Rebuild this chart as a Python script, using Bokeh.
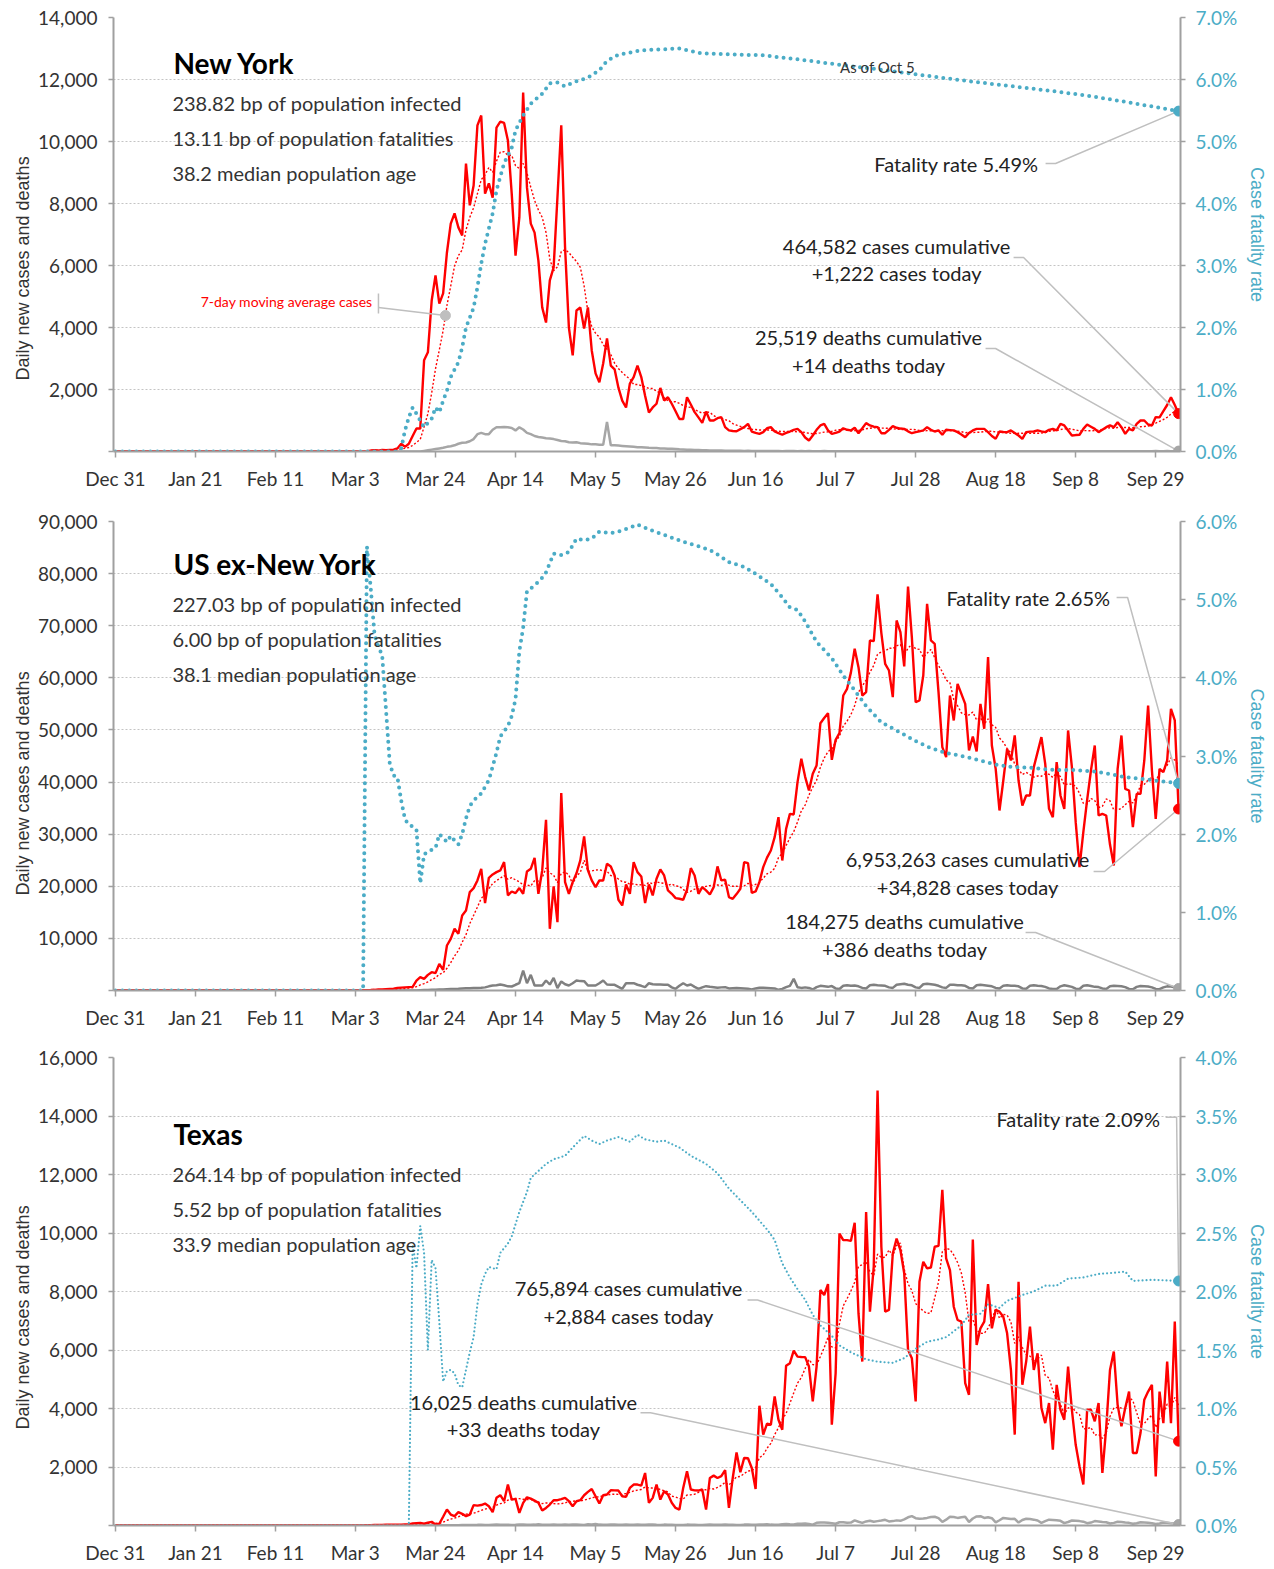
import numpy as np
from bokeh.plotting import figure
from bokeh.models import (Range1d, LinearAxis, FixedTicker, NumeralTickFormatter,
                          PrintfTickFormatter, ColumnDataSource, Title)
from bokeh.layouts import column
from bokeh.embed import file_html
from bokeh.resources import INLINE
from bokeh.core.properties import value

# ---------------- data (day 0 = Dec 31, 2019; day 279 = Oct 5, 2020) ----------------
TICK_DAYS = [0, 21, 42, 63, 84, 105, 126, 147, 168, 189, 210, 231, 252, 273]
TICK_LABELS = ["Dec 31", "Jan 21", "Feb 11", "Mar 3", "Mar 24", "Apr 14", "May 5",
               "May 26", "Jun 16", "Jul 7", "Jul 28", "Aug 18", "Sep 8", "Sep 29"]
LAST_DAY = 279

# New York daily new cases, from day 63
NY_CASES_START = 63
NY_CASES = [
    0, 0, 5, 10, 30, 40, 30, 50, 40, 50,
    60, 100, 250, 150, 250, 500, 740, 740, 2940, 3200,
    4870, 5680, 4770, 5100, 6420, 7350, 7680, 7230, 6970, 9290,
    7940, 8580, 10520, 10840, 8320, 8650, 8190, 10450, 10640, 10600,
    10030, 8320, 6320, 7550, 11580, 8520, 7350, 7060, 6160, 4650,
    4160, 5520, 5940, 8200, 10520, 6580, 4000, 3100, 4550, 4650,
    3970, 4650, 3260, 2520, 2230, 2840, 3650, 2770, 2650, 2060,
    1640, 1420, 2190, 2400, 2770, 2400, 1800, 1260, 1420, 1540,
    2050, 1645, 1750, 1540, 1300, 1050, 1050, 1750, 1515, 1270,
    1100, 925, 1290, 1000, 1000, 1075, 1110, 785, 680, 660,
    655, 720, 785, 890, 645, 600, 570, 625, 750, 785,
    650, 590, 540, 600, 645, 700, 730, 625, 450, 355,
    515, 700, 840, 890, 680, 570, 600, 645, 750, 700,
    680, 765, 590, 750, 915, 840, 800, 785, 590, 590,
    700, 815, 765, 740, 730, 650, 590, 625, 650, 680,
    785, 700, 645, 680, 540, 700, 690, 680, 625, 550,
    460, 600, 680, 730, 730, 730, 625, 500, 410, 645,
    630, 625, 680, 600, 515, 410, 625, 640, 645, 680,
    650, 625, 700, 730, 680, 890, 840, 680, 515, 530,
    540, 730, 870, 800, 730, 625, 700, 785, 840, 785,
    945, 785, 570, 730, 680, 890, 1000, 1000, 870, 840,
    1110, 1100, 1300, 1500, 1750, 1500, 1222]

# New York daily deaths, from day 81
NY_DEATHS_START = 81
NY_DEATHS = [
    20, 40, 60, 80, 100, 120, 150, 170, 200, 250,
    280, 290, 330, 400, 560, 600, 560, 560, 700, 780,
    780, 790, 780, 760, 680, 780, 710, 600, 560, 500,
    470, 450, 430, 420, 400, 370, 340, 330, 300, 290,
    300, 270, 260, 250, 230, 230, 220, 215, 950, 200,
    200, 190, 180, 170, 160, 150, 140, 140, 130, 120,
    115, 110, 100, 95, 90, 85, 80, 70, 65, 60,
    55, 50, 45, 40, 40, 35, 35, 30, 30, 28,
    25, 27, 22, 24, 20, 22, 18, 20, 17, 19,
    15, 16, 14, 18, 12, 15, 13, 16, 11, 14,
    12, 13, 10, 12, 11, 14, 9, 12, 10, 11,
    9, 12, 8, 11, 10, 9, 12, 8, 10, 9,
    11, 8, 9, 10, 7, 9, 8, 10, 7, 9,
    8, 7, 9, 6, 8, 7, 9, 6, 8, 7,
    6, 8, 5, 7, 6, 8, 5, 7, 6, 5,
    7, 6, 8, 5, 7, 6, 5, 7, 6, 8,
    5, 7, 6, 5, 8, 6, 7, 5, 6, 8,
    7, 6, 9, 7, 8, 6, 9, 7, 8, 10,
    8, 9, 7, 10, 9, 11, 8, 10, 12, 9,
    11, 10, 13, 12, 10, 14, 12, 11, 14]

# New York case fatality rate (%), read at these days
NY_CFR_DAYS = [0, 74, 75, 76, 77, 78, 79, 80, 81, 82, 83, 84, 85, 86, 87, 88, 90, 91, 92, 94,
               95, 96, 97, 99, 100, 102, 104, 105, 107, 109, 112, 114, 116, 118, 120, 124, 127,
               129, 132, 138, 148, 154, 170, 181, 191, 202, 213, 223, 234, 245, 255, 266, 279]
NY_CFR = [0, 0, 0.05, 0.34, 0.55, 0.71, 0.61, 0.50, 0.39, 0.46, 0.53, 0.71, 0.63, 0.82, 0.98,
          1.20, 1.44, 1.68, 2.00, 2.32, 2.65, 3.03, 3.35, 3.84, 4.21, 4.65, 4.90, 5.18, 5.42,
          5.61, 5.77, 5.94, 5.95, 5.89, 5.95, 6.03, 6.15, 6.30, 6.40, 6.47, 6.50, 6.42, 6.39,
          6.31, 6.23, 6.15, 6.06, 5.98, 5.90, 5.82, 5.74, 5.63, 5.49]

# US ex-New York daily new cases, from day 63
US_CASES_START = 63
US_CASES = [
    30, 50, 60, 80, 100, 130, 180, 200, 250, 300,
    350, 500, 550, 600, 650, 700, 1900, 2560, 2240, 3000,
    3520, 3330, 5100, 3970, 8640, 9920, 11840, 10880, 14400, 15360,
    18880, 19650, 21120, 23360, 16770, 21630, 22270, 22720, 23040, 24640,
    18240, 19000, 18690, 19650, 18560, 22850, 23360, 25470, 18560, 23040,
    32770, 11840, 19970, 13120, 37890, 20800, 18560, 20800, 22500, 24960,
    29570, 23040, 21120, 19840, 21120, 21120, 24320, 23810, 22080, 17410,
    16320, 20350, 18560, 24640, 22720, 21890, 16770, 20350, 18240, 21440,
    23230, 22080, 19200, 18560, 17730, 17600, 17410, 19330, 23490, 22080,
    18560, 19840, 19200, 18430, 19840, 23810, 21120, 21250, 17920, 17600,
    18500, 19520, 24640, 24450, 18750, 19000, 20790, 23670, 25500, 26870,
    29430, 33260, 24950, 31020, 33900, 33780, 39980, 44460, 41000, 38380,
    41580, 43180, 51300, 52300, 53220, 44270, 48110, 49390, 56610, 57890,
    61000, 65570, 62050, 56610, 57250, 67170, 67040, 76000, 68580, 62690,
    61410, 56290, 71010, 68770, 62180, 77530, 67810, 55330, 55650, 60450,
    74210, 67170, 66530, 57250, 46700, 44780, 56610, 51820, 58850, 56930,
    55010, 46060, 48750, 45870, 55010, 50220, 63970, 47020, 42540, 34540,
    40300, 46380, 44140, 48940, 40300, 35500, 37420, 37420, 42860, 45740,
    48620, 43500, 34860, 33260, 43820, 37420, 34860, 49900, 42860, 32300,
    23670, 30390, 36590, 42220, 47020, 33580, 33900, 33580, 28000, 23990,
    42540, 48940, 38700, 38380, 31350, 37740, 37740, 44140, 54690, 42220,
    32940, 42540, 41900, 44140, 54050, 51820, 34828]

# US ex-New York daily deaths, from day 80
US_DEATHS_START = 80
US_DEATHS = [
    50, 80, 100, 130, 150, 180, 200, 250, 280, 300,
    330, 380, 420, 450, 480, 500, 520, 600, 800, 960,
    1000, 1150, 1000, 800, 770, 1100, 1400, 3840, 1400, 3000,
    960, 950, 960, 1920, 1150, 2430, 450, 1730, 1200, 960,
    1400, 1920, 1800, 1790, 960, 960, 960, 1400, 1920, 1150,
    1100, 1090, 700, 320, 1400, 1400, 1400, 1100, 900, 640,
    1400, 1200, 1150, 1150, 1100, 1090, 600, 320, 900, 1400,
    960, 1150, 700, 320, 600, 830, 700, 640, 510, 600,
    640, 400, 450, 500, 450, 400, 320, 200, 400, 510,
    550, 500, 450, 400, 130, 300, 640, 900, 2240, 640,
    500, 600, 500, 200, 650, 900, 800, 700, 850, 400,
    300, 900, 1000, 900, 950, 800, 500, 400, 1000, 1100,
    1000, 950, 900, 600, 500, 1100, 1200, 1300, 1100, 1000,
    600, 500, 1200, 1300, 1200, 1100, 900, 600, 500, 1100,
    1100, 1000, 1000, 900, 500, 400, 1000, 1100, 1000, 900,
    800, 500, 400, 900, 1000, 900, 900, 800, 400, 350,
    900, 1000, 900, 850, 700, 400, 300, 300, 800, 1000,
    850, 700, 350, 300, 900, 1000, 850, 700, 650, 400,
    300, 800, 900, 850, 800, 650, 300, 250, 700, 850,
    800, 750, 600, 300, 250, 600, 800, 750, 600, 386]

US_CFR_DAYS = [0, 65, 66, 67, 68, 69, 70, 71, 72, 73, 74, 75, 76, 77, 78, 79, 80, 81, 82, 83,
               84, 85, 86, 87, 88, 89, 90, 91, 92, 93, 94, 96, 98, 100, 101, 103, 104, 105, 106,
               107, 108, 110, 112, 113, 115, 117, 119, 121, 123, 125, 127, 130, 132, 135, 137,
               141, 144, 149, 154, 157, 161, 165, 168, 172, 175, 177, 179, 181, 184, 188, 191,
               194, 197, 201, 206, 210, 214, 218, 223, 228, 231, 235, 240, 244, 248, 252, 257,
               261, 265, 269, 274, 279]
US_CFR = [0, 0, 5.68, 5.15, 4.55, 4.40, 4.29, 3.60, 2.90, 2.75, 2.73, 2.43, 2.19, 2.12, 2.10,
          2.06, 1.37, 1.74, 1.78, 1.80, 1.82, 2.00, 1.95, 1.90, 1.98, 1.92, 1.87, 2.00, 2.20,
          2.36, 2.43, 2.52, 2.69, 3.04, 3.25, 3.38, 3.51, 3.73, 4.34, 4.64, 5.11, 5.18, 5.28,
          5.35, 5.59, 5.57, 5.61, 5.78, 5.76, 5.78, 5.87, 5.85, 5.87, 5.92, 5.96, 5.88, 5.83,
          5.74, 5.67, 5.61, 5.48, 5.42, 5.33, 5.20, 5.03, 4.90, 4.87, 4.72, 4.46, 4.25, 4.03,
          3.84, 3.64, 3.43, 3.30, 3.19, 3.10, 3.04, 2.99, 2.93, 2.89, 2.86, 2.85, 2.83, 2.82,
          2.82, 2.80, 2.77, 2.73, 2.71, 2.68, 2.65]

# Texas daily new cases, from day 66
TX_CASES_START = 66
TX_CASES = [
    10, 10, 15, 20, 20, 25, 25, 30, 30, 30,
    40, 40, 70, 80, 90, 60, 100, 125, 35, 60,
    300, 545, 375, 320, 455, 400, 320, 375, 695, 680,
    700, 750, 660, 455, 945, 1035, 830, 1400, 885, 910,
    430, 775, 965, 920, 850, 775, 510, 600, 715, 865,
    865, 900, 945, 830, 660, 830, 865, 1035, 1150, 1250,
    1000, 750, 1035, 1060, 1205, 1200, 1195, 1000, 980, 1285,
    1400, 1400, 1365, 1795, 775, 945, 1400, 885, 1170, 1060,
    775, 600, 545, 1285, 1855, 1230, 1200, 1195, 1230, 545,
    1625, 1705, 1625, 1685, 1890, 600, 1625, 2500, 1820, 2310,
    2300, 1965, 1250, 4095, 3105, 3480, 3445, 4410, 3615, 3275,
    5460, 5550, 5980, 5775, 5760, 5755, 5435, 4240, 5435, 8050,
    7880, 8255, 3445, 5205, 9980, 9755, 9755, 9730, 10350, 7250,
    5605, 10720, 7310, 8845, 14870, 9530, 7310, 7370, 9300, 9810,
    9415, 8620, 6005, 5720, 4240, 8335, 9015, 8790, 8820, 9530,
    9560, 11480, 9130, 8730, 7480, 7025, 6970, 4865, 4470, 9780,
    6175, 6740, 6970, 8255, 6740, 7370, 7310, 7140, 6570, 5320,
    3105, 8335, 4810, 5605, 6800, 5320, 5890, 4015, 3500, 4185,
    2590, 4810, 3955, 3615, 5435, 3955, 2760, 2020, 1400, 3955,
    3955, 3560, 4185, 1800, 3330, 5320, 5945, 4125, 3390, 4015,
    4580, 2480, 2480, 3160, 4300, 4580, 4810, 1680, 4580, 3500,
    5605, 3500, 6970, 2884]

# Texas daily deaths, from day 80
TX_DEATHS_START = 80
TX_DEATHS = [
    2, 3, 4, 5, 5, 6, 8, 10, 10, 12,
    12, 15, 18, 20, 20, 22, 25, 20, 18, 25,
    30, 28, 26, 25, 20, 22, 30, 35, 28, 25,
    30, 40, 25, 22, 28, 30, 26, 24, 30, 28,
    35, 30, 25, 20, 40, 35, 50, 30, 28, 25,
    32, 30, 28, 22, 30, 26, 24, 30, 28, 25,
    35, 30, 22, 18, 30, 28, 25, 20, 20, 18,
    30, 28, 25, 20, 15, 25, 30, 28, 25, 22,
    30, 28, 25, 20, 20, 30, 35, 28, 25, 30,
    35, 40, 30, 25, 28, 45, 50, 40, 35, 60,
    60, 70, 55, 30, 90, 100, 105, 95, 80, 60,
    110, 110, 95, 100, 175, 130, 90, 140, 165, 130,
    150, 170, 195, 140, 150, 175, 160, 210, 280, 320,
    250, 230, 240, 260, 290, 300, 250, 120, 200, 300,
    290, 260, 280, 300, 120, 240, 310, 320, 260, 280,
    250, 110, 180, 260, 240, 220, 230, 100, 190, 230,
    220, 200, 170, 90, 150, 200, 190, 180, 160, 80,
    120, 170, 160, 150, 130, 80, 100, 150, 140, 120,
    110, 70, 90, 130, 120, 100, 90, 60, 80, 110,
    100, 90, 80, 50, 70, 100, 90, 80, 70, 33]

TX_CFR_DAYS = [0, 77, 78, 79, 80, 81, 82, 83, 84, 85, 86, 87, 88, 89, 90, 91, 92, 93, 94, 95,
               96, 97, 98, 99, 100, 101, 103, 104, 106, 108, 109, 111, 113, 115, 118, 120, 123,
               125, 127, 129, 132, 135, 137, 139, 142, 144, 148, 151, 155, 158, 161, 164, 167,
               171, 173, 175, 177, 179, 181, 183, 185, 188, 190, 193, 197, 200, 204, 207, 210,
               213, 216, 218, 222, 224, 227, 229, 232, 234, 238, 241, 244, 247, 250, 254, 258,
               262, 265, 267, 272, 279]
TX_CFR = [0, 0, 2.40, 2.20, 2.56, 2.33, 1.50, 2.27, 2.20, 1.74, 1.23, 1.32, 1.33, 1.30, 1.20,
          1.18, 1.33, 1.48, 1.61, 1.89, 2.06, 2.15, 2.21, 2.20, 2.19, 2.33, 2.41, 2.47, 2.68,
          2.85, 2.97, 3.03, 3.09, 3.13, 3.16, 3.23, 3.33, 3.29, 3.26, 3.29, 3.32, 3.28, 3.34,
          3.30, 3.28, 3.29, 3.23, 3.16, 3.09, 3.01, 2.88, 2.78, 2.68, 2.53, 2.44, 2.24, 2.12,
          2.02, 1.93, 1.80, 1.71, 1.62, 1.54, 1.48, 1.42, 1.40, 1.39, 1.43, 1.51, 1.57, 1.59,
          1.61, 1.71, 1.80, 1.81, 1.89, 1.86, 1.92, 1.97, 2.00, 2.05, 2.05, 2.11, 2.12, 2.15,
          2.16, 2.17, 2.09, 2.10, 2.09]

# ---------------- helpers ----------------
W = 1274
FONT = "Lato"
SANS = "Liberation Sans"
RED = "#FF0000"
BLUE = "#4BACC6"
GRAY = "#A6A6A6"
DGRAY = "#808080"
LEAD = "#BFBFBF"
AXC = "#A0A0A0"
DAYS = np.arange(LAST_DAY + 1)


def full(start, vals):
    assert start + len(vals) - 1 == LAST_DAY, (start, len(vals))
    return np.concatenate([np.zeros(start), np.asarray(vals, dtype=float)])


def trailing_ma(a, n=7):
    out = np.empty_like(a)
    for i in range(len(a)):
        out[i] = a[max(0, i - n + 1):i + 1].mean()
    return out


def dx(X):
    """reference pixel column -> day"""
    return (X - 115.0) / 3.81


def base(height, top, bottom, ymax, ystep, rmax, rstep, ylab_offset):
    p = figure(width=W, height=height, x_range=Range1d(-0.5, 279.5), y_range=Range1d(0, ymax),
               output_backend="svg", toolbar_location=None,
               min_border_left=113, min_border_right=94,
               min_border_top=top, min_border_bottom=bottom)
    p.outline_line_color = None
    p.xgrid.visible = False
    p.ygrid.grid_line_color = "#C4C4C4"
    p.ygrid.grid_line_dash = "2 2"
    p.ygrid.grid_line_width = 1

    xa = p.xaxis[0]
    xa.ticker = FixedTicker(ticks=TICK_DAYS)
    xa.major_label_overrides = dict(zip(TICK_DAYS, TICK_LABELS))
    xa.axis_line_color = AXC
    xa.axis_line_width = 2
    xa.major_tick_line_color = AXC
    xa.major_tick_line_width = 1.5
    xa.major_tick_out = 6
    xa.major_tick_in = 0
    xa.minor_tick_line_color = None
    xa.major_label_text_font = FONT
    xa.major_label_text_font_size = "19px"
    xa.major_label_text_color = "#333333"
    xa.major_label_standoff = 9

    ya = p.yaxis[0]
    ya.ticker = FixedTicker(ticks=list(range(0, ymax + 1, ystep)))
    ya.formatter = NumeralTickFormatter(format="0,0")
    ya.major_label_overrides = {0: ""}
    ya.axis_line_color = AXC
    ya.axis_line_width = 2
    ya.major_tick_line_color = AXC
    ya.major_tick_line_width = 1.5
    ya.major_tick_out = 5
    ya.major_tick_in = 0
    ya.minor_tick_line_color = None
    ya.major_label_text_font = FONT
    ya.major_label_text_font_size = "19px"
    ya.major_label_text_color = "#333333"
    ya.major_label_standoff = 11

    p.extra_y_ranges = {"cfr": Range1d(0, rmax)}
    nr = int(round(rmax / rstep))
    rticks = [round(i * rstep, 3) for i in range(nr + 1)]
    ra = LinearAxis(y_range_name="cfr", ticker=FixedTicker(ticks=rticks),
                    formatter=PrintfTickFormatter(format="%.1f%%"),
                    axis_label="Case fatality rate")
    ra.axis_line_color = AXC
    ra.axis_line_width = 2
    ra.major_tick_line_color = AXC
    ra.major_tick_line_width = 1.5
    ra.major_tick_out = 5
    ra.major_tick_in = 0
    ra.minor_tick_line_color = None
    ra.major_label_text_font = FONT
    ra.major_label_text_font_size = "19px"
    ra.major_label_text_color = BLUE
    ra.major_label_standoff = 10
    ra.axis_label_text_font = SANS
    ra.axis_label_text_font_size = "18px"
    ra.axis_label_text_font_style = "normal"
    ra.axis_label_text_color = BLUE
    ra.axis_label_standoff = 7
    p.add_layout(ra, "right")

    p.add_layout(Title(text="Daily new cases and deaths", align="left", offset=ylab_offset,
                       text_font=SANS, text_font_size="18px", text_font_style="normal",
                       text_color="#333333", standoff=6), "left")
    return p


def texts(p, xs, ys, txt, size, color="#222222", align="center", style="normal"):
    src = ColumnDataSource(dict(x=xs, y=ys, t=txt))
    p.text(x="x", y="y", text="t", source=src, text_font=value(FONT), text_font_size=size,
           text_color=color, text_align=align, text_baseline="middle", text_font_style=style)


def leader(p, xs, ys):
    p.line(x=xs, y=ys, line_color=LEAD, line_width=1.5)


def draw_series(p, cases, deaths, cfr_days, cfr, death_color, cfr_width, cfr_dash):
    ma = trailing_ma(cases)
    p.line(DAYS, deaths, line_color=death_color, line_width=2.5)
    p.line(DAYS, cases, line_color=RED, line_width=2.4)
    p.line(DAYS, ma, line_color=RED, line_width=1.4, line_dash="2 2")
    p.line(cfr_days, cfr, y_range_name="cfr", line_color=BLUE, line_width=cfr_width,
           line_dash=cfr_dash, line_cap="round")
    return ma


def end_markers(p, cases, deaths, cfr):
    p.scatter([LAST_DAY], [deaths[-1]], size=10, color="#A6A6A6")
    p.scatter([LAST_DAY], [cases[-1]], size=10, color=RED)
    p.scatter([LAST_DAY], [cfr[-1]], size=10, color=BLUE, y_range_name="cfr")


# ---------------- Panel 1: New York ----------------
ny_c = full(NY_CASES_START, NY_CASES)
ny_d = full(NY_DEATHS_START, NY_DEATHS)
p1 = base(493, 17, 42, 14000, 2000, 7.0, 1.0, 71)
ny_ma = draw_series(p1, ny_c, ny_d, NY_CFR_DAYS, NY_CFR, GRAY, 4, "0 7")
f1 = 14000 / 7.0   # cases per 1 % of fatality rate


def v1(Y):
    return (451.0 - Y) / 434.0 * 14000


texts(p1, [dx(173)], [v1(62)], ["New York"], "28px", color="#000000", align="left", style="bold")
texts(p1, [dx(172)] * 3, [v1(102), v1(137), v1(172)],
      ["238.82 bp of population infected", "13.11 bp of population fatalities",
       "38.2 median population age"], "20px", color="#333333", align="left")
texts(p1, [dx(877)], [v1(66)], ["As of Oct 5"], "15px", color="#333333")
texts(p1, [dx(1038)], [v1(163)], ["Fatality rate 5.49%"], "20px", align="right")
texts(p1, [dx(896)] * 2, [v1(245), v1(272)], ["464,582 cases cumulative", "+1,222 cases today"], "20px")
texts(p1, [dx(868)] * 2, [v1(336), v1(364)], ["25,519 deaths cumulative", "+14 deaths today"], "20px")
texts(p1, [dx(372)], [v1(301)], ["7-day moving average cases"], "14px", color=RED, align="right")
leader(p1, [dx(1045), dx(1055), LAST_DAY], [v1(163), v1(163), NY_CFR[-1] * f1])
leader(p1, [dx(1013), dx(1023), LAST_DAY], [v1(257), v1(257), ny_c[-1]])
leader(p1, [dx(985), dx(995), LAST_DAY], [v1(348), v1(348), ny_d[-1]])
ma_day = 86.6
ma_val = ny_ma[86] + 0.6 * (ny_ma[87] - ny_ma[86])
leader(p1, [dx(378), dx(378)], [v1(293), v1(313)])
leader(p1, [dx(378), ma_day], [v1(307), ma_val])
p1.scatter([ma_day], [ma_val], size=10, color="#BFBFBF")
end_markers(p1, ny_c, ny_d, NY_CFR)

# ---------------- Panel 2: US ex-New York ----------------
us_c = full(US_CASES_START, US_CASES)
us_d = full(US_DEATHS_START, US_DEATHS)
p2 = base(539, 28, 42, 90000, 10000, 6.0, 1.0, 95)
draw_series(p2, us_c, us_d, US_CFR_DAYS, US_CFR, DGRAY, 4, "0 7")
f2 = 90000 / 6.0


def v2(Y):
    return (990.0 - Y) / 469.0 * 90000


texts(p2, [dx(173)], [v2(563)], ["US ex-New York"], "28px", color="#000000", align="left", style="bold")
texts(p2, [dx(172)] * 3, [v2(603), v2(638), v2(673)],
      ["227.03 bp of population infected", "6.00 bp of population fatalities",
       "38.1 median population age"], "20px", color="#333333", align="left")
texts(p2, [dx(1110)], [v2(597)], ["Fatality rate 2.65%"], "20px", align="right")
texts(p2, [dx(967)] * 2, [v2(858), v2(886)], ["6,953,263 cases cumulative", "+34,828 cases today"], "20px")
texts(p2, [dx(904)] * 2, [v2(920), v2(948)], ["184,275 deaths cumulative", "+386 deaths today"], "20px")
leader(p2, [dx(1116), dx(1127), LAST_DAY], [v2(597), v2(597), US_CFR[-1] * f2])
leader(p2, [dx(1093), dx(1104), LAST_DAY], [v2(871), v2(871), us_c[-1]])
leader(p2, [dx(1025), dx(1035), LAST_DAY], [v2(932), v2(932), us_d[-1]])
end_markers(p2, us_c, us_d, US_CFR)

# ---------------- Panel 3: Texas ----------------
tx_c = full(TX_CASES_START, TX_CASES)
tx_d = full(TX_DEATHS_START, TX_DEATHS)
p3 = base(534, 25, 40, 16000, 2000, 4.0, 0.5, 96)
draw_series(p3, tx_c, tx_d, TX_CFR_DAYS, TX_CFR, GRAY, 2.2, "0 4")
f3 = 16000 / 4.0


def v3(Y):
    return (1526.0 - Y) / 469.0 * 16000


texts(p3, [dx(173)], [v3(1134)], ["Texas"], "28px", color="#000000", align="left", style="bold")
texts(p3, [dx(172)] * 3, [v3(1174), v3(1209), v3(1244)],
      ["264.14 bp of population infected", "5.52 bp of population fatalities",
       "33.9 median population age"], "20px", color="#333333", align="left")
texts(p3, [dx(1160)], [v3(1119)], ["Fatality rate 2.09%"], "20px", align="right")
texts(p3, [dx(628)] * 2, [v3(1288), v3(1316)], ["765,894 cases cumulative", "+2,884 cases today"], "20px")
texts(p3, [dx(523)] * 2, [v3(1402), v3(1429)], ["16,025 deaths cumulative", "+33 deaths today"], "20px")
leader(p3, [dx(1165), dx(1176), LAST_DAY], [v3(1117), v3(1117), TX_CFR[-1] * f3])
leader(p3, [dx(747), dx(757), LAST_DAY], [v3(1300), v3(1300), tx_c[-1]])
leader(p3, [dx(640), dx(650), LAST_DAY], [v3(1413), v3(1413), tx_d[-1]])
end_markers(p3, tx_c, tx_d, TX_CFR)

layout = column(p1, p2, p3)
open("out.html", "w").write(file_html(layout, INLINE))
